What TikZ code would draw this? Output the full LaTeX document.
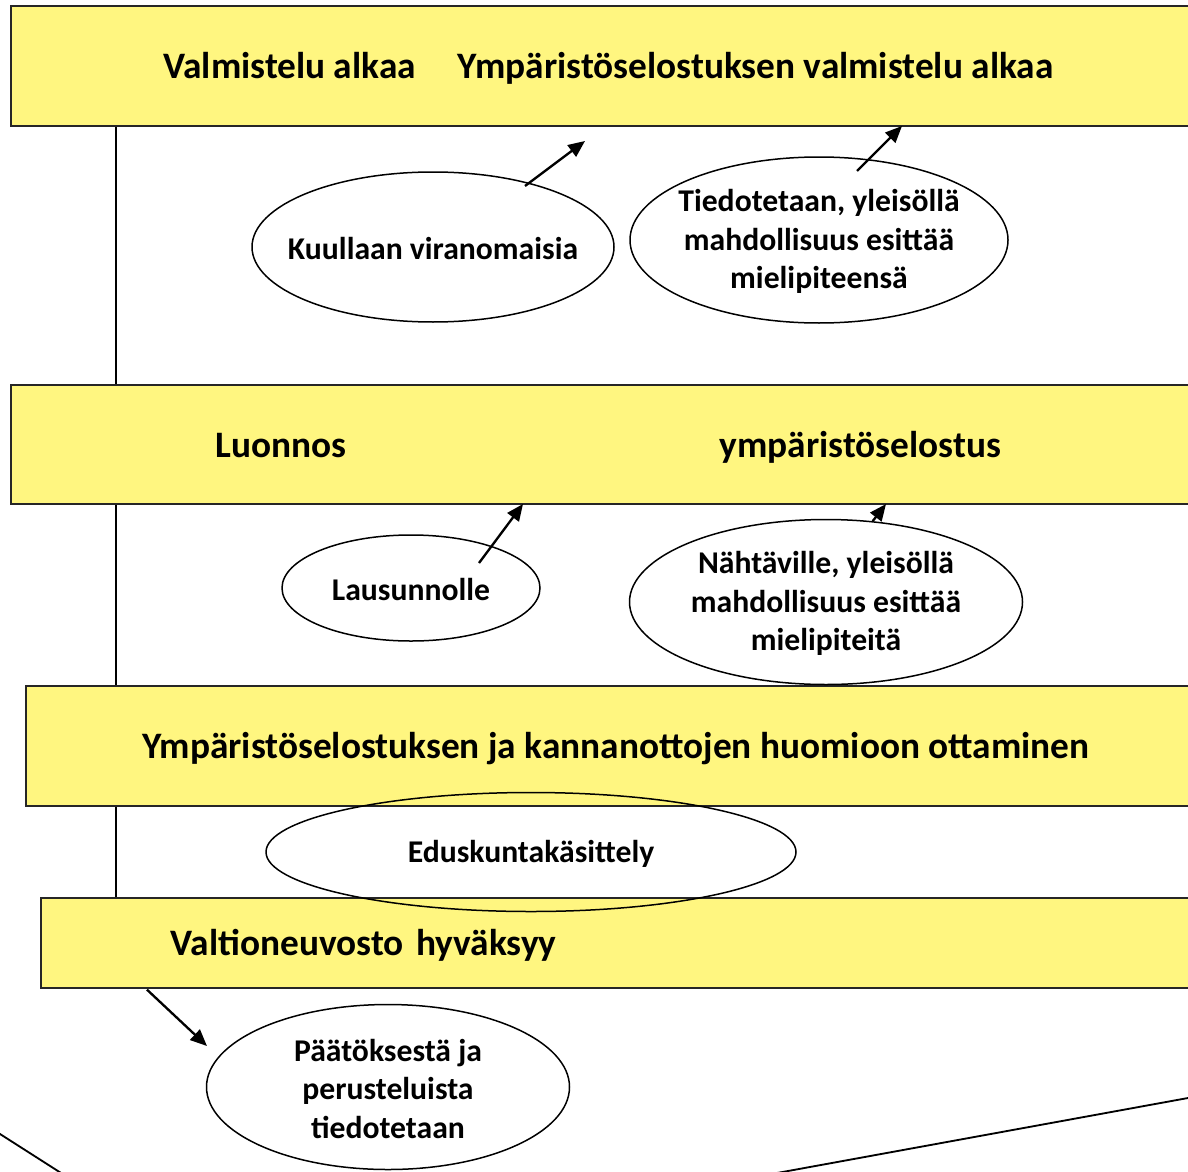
\documentclass[tikz,border=0pt]{standalone}
\usepackage{fontspec}
\setmainfont{Carlito}
\usetikzlibrary{shapes.geometric,arrows.meta,calc}
\definecolor{keltainen}{RGB}{255,246,128}
\tikzset{
  vaihe/.style={rectangle,draw=black!85,line width=1pt,fill=keltainen,anchor=north west,
    text depth=0pt,font=\fontsize{22.4}{26}\selectfont\bfseries},
  soikio/.style={ellipse,draw,line width=0.9pt,inner sep=0pt},
  sisalto/.style={align=center,yshift=-1pt,font=\fontsize{19}{23.2}\selectfont\bfseries},
  nuoli/.style={line width=1.4pt,-{Triangle[length=10pt,width=8.5pt]}},
  runkoviiva/.style={line width=0.9pt},
}
\begin{document}
\begin{tikzpicture}[x=0.6pt,y=-0.6pt]
	\useasboundingbox (0,0) rectangle (1188,1171);
	
	% vaiheet
	\node[vaihe,minimum width=717pt,minimum height=72pt] (box1) at (10,5)
		{Valmistelu alkaa\hspace{25pt}Ympäristöselostuksen valmistelu alkaa};
	\node[vaihe,minimum width=717pt,minimum height=71.4pt] (box2) at (10,384)
		{Luonnos\hspace{224pt}ympäristöselostus};
	\node[vaihe,minimum width=708pt,minimum height=72pt] (box3) at (25,685)
		{Ympäristöselostuksen ja kannanottojen huomioon ottaminen};
	\node[vaihe,minimum height=54pt,inner xsep=78pt,text width=543pt,align=left] (box4) at (40,897)
		{Valtioneuvosto hyväksyy};
	
	% pystyviiva
	\coordinate (runko) at (116,0);
	\draw[runkoviiva] (box1.south -| runko) -- (box2.north -| runko);
	\draw[runkoviiva] (box2.south -| runko) -- (box3.north -| runko);
	\draw[runkoviiva] (box3.south -| runko) -- (box4.north -| runko);
	
	% soikiot
	\node[soikio,minimum width=217.2pt,minimum height=90pt,
		label={[sisalto]center:Kuullaan viranomaisia}] (e1) at (433,247) {};
	\node[soikio,minimum width=226.8pt,minimum height=99.6pt,
		label={[sisalto]center:{Tiedotetaan, yleisöllä\\mahdollisuus esittää\\mielipiteensä}}] (e2) at (819,240) {};
	\node[soikio,minimum width=154.8pt,minimum height=63.6pt,
		label={[sisalto]center:Lausunnolle}] (e3) at (411,588) {};
	\node[soikio,minimum width=235.8pt,minimum height=99pt,
		label={[sisalto]center:{Nähtäville, yleisöllä\\mahdollisuus esittää\\mielipiteitä}}] (e4) at (826,602) {};
	\node[soikio,minimum width=318pt,minimum height=71.4pt,
		label={[sisalto]center:Eduskuntakäsittely}] (e5) at (531,852) {};
	\node[soikio,minimum width=217.8pt,minimum height=99pt,
		label={[sisalto]center:{Päätöksestä ja\\perusteluista\\tiedotetaan}}] (e6) at (388,1087) {};
	
	% nuolet
	\coordinate (k1) at (585,141);
	\coordinate (k2) at (902,126);
	\coordinate (k3) at (523,504);
	\coordinate (k4) at (886,504);
	\coordinate (k5) at (207,1046);
	\draw[nuoli] ($(e1)+(92,-61)$) -- (k1);
	\draw[nuoli] ($(e2)+(38,-69)$) -- (k2);
	\draw[nuoli] ($(e3)+(68,-25)$) -- (k3);
	\draw[nuoli] (e4.60) -- (k4);
	\draw[nuoli] ($(box4.south west)+(107,1)$) -- (k5);
	
	% reunaviivat alhaalla
	\draw[line width=1.1pt] (-10,1127.6) -- (70,1178.7);
	\draw[line width=1.1pt] (760,1176.1) -- (1200,1095.8);
\end{tikzpicture}
\end{document}
